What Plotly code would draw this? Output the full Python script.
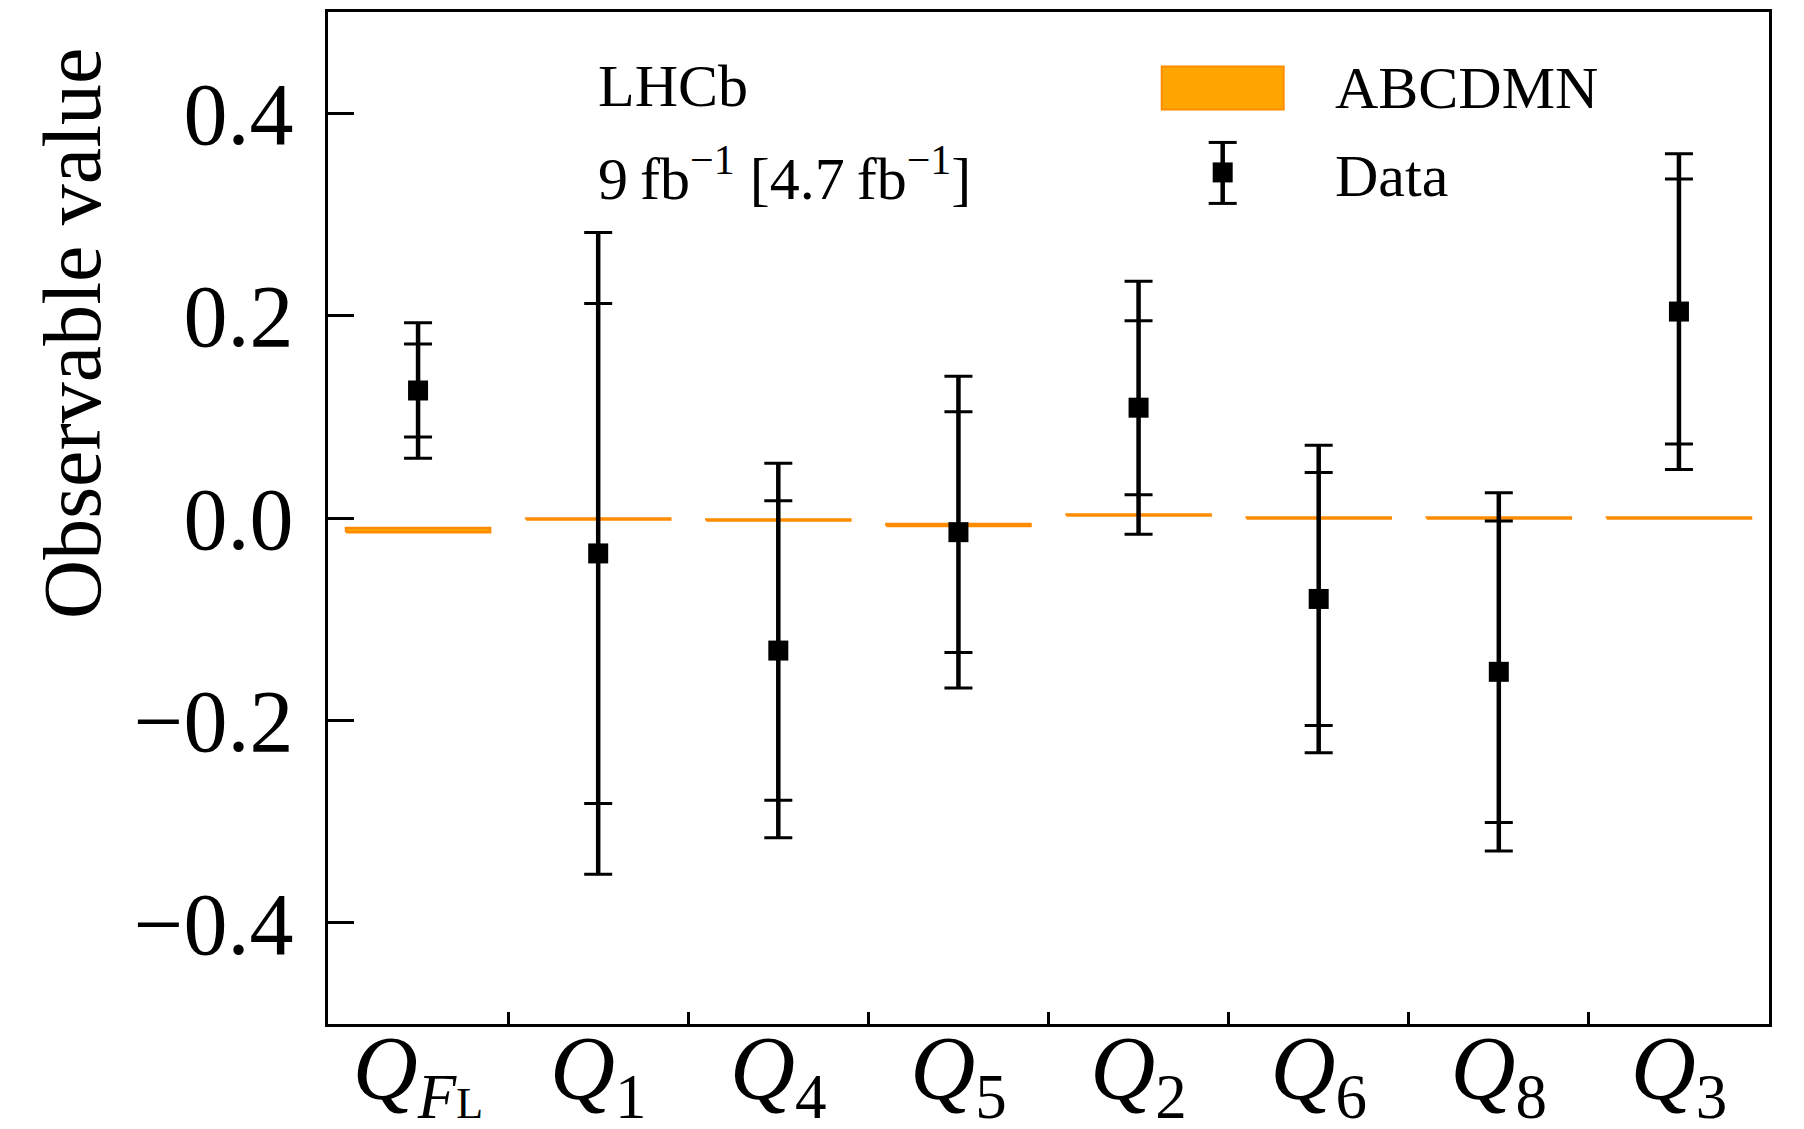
import plotly.graph_objects as go

# ---- data ----
categories = ["<i>Q</i><sub><i>F</i><span style='font-size:44px'>L</span></sub>",
              "<i>Q</i><sub>1</sub>", "<i>Q</i><sub>4</sub>",
              "<i>Q</i><sub>5</sub>", "<i>Q</i><sub>2</sub>", "<i>Q</i><sub>6</sub>",
              "<i>Q</i><sub>8</sub>", "<i>Q</i><sub>3</sub>"]
data_val = [0.126, -0.035, -0.131, -0.014, 0.109, -0.080, -0.152, 0.204]
stat_err = [0.046, 0.247, 0.148, 0.119, 0.086, 0.125, 0.149, 0.131]
tot_err = [0.067, 0.317, 0.185, 0.154, 0.125, 0.152, 0.177, 0.156]
sm_val = [-0.012, -0.001, -0.002, -0.007, 0.003, 0.0, 0.0, 0.0]
sm_err = [0.002, 0.0005, 0.0005, 0.001, 0.0005, 0.0005, 0.0005, 0.0005]
y_ticks = [-0.4, -0.2, 0.0, 0.2, 0.4]

FONT = "Liberation Serif, Times New Roman, serif"
ORANGE = "#FFA500"
DORANGE = "#FF8C00"
half = 0.4

x = list(range(len(categories)))

fig = go.Figure()

# SM prediction bands
bx, by = [], []
for i, (v, e) in enumerate(zip(sm_val, sm_err)):
    bx += [i - half, i + half, i + half, i - half, i - half, None]
    by += [v - e, v - e, v + e, v + e, v - e, None]
fig.add_trace(go.Scatter(x=bx, y=by, mode="lines", fill="toself", fillcolor=ORANGE,
                         line=dict(color=DORANGE, width=2.5), showlegend=False,
                         hoverinfo="skip"))

# thick vertical bars (total uncertainty)
fig.add_trace(go.Scatter(x=x, y=data_val, mode="markers", marker=dict(size=1, opacity=0),
                         error_y=dict(type="data", array=tot_err, width=0, thickness=4.5,
                                      color="black"), showlegend=False))
# caps: total
fig.add_trace(go.Scatter(x=x, y=data_val, mode="markers", marker=dict(size=1, opacity=0),
                         error_y=dict(type="data", array=tot_err, width=14, thickness=3,
                                      color="black"), showlegend=False))
# caps: stat
fig.add_trace(go.Scatter(x=x, y=data_val, mode="markers", marker=dict(size=1, opacity=0),
                         error_y=dict(type="data", array=stat_err, width=14, thickness=3,
                                      color="black"), showlegend=False))
# markers
fig.add_trace(go.Scatter(x=x, y=data_val, mode="markers",
                         marker=dict(symbol="square", size=20, color="black"),
                         showlegend=False))

# ---- geometry (page has an 8px body margin) ----
OFF = 8
FW, FH = 1796, 1121
L, R, T, B = 328, 1769.5, 11.5, 1024          # target plot box in page pixels
W, H = R - L, B - T
ml, mt = L - OFF, T - OFF
mr, mb = FW - ml - W, FH - mt - H

def px(xf):
    return (xf - L) / W
def py(yf):
    return (B - yf) / H

shapes = []
shapes.append(dict(type="rect", xref="paper", yref="paper", x0=px(1162), x1=px(1284),
                   y0=py(109), y1=py(66), fillcolor=ORANGE, line=dict(color=DORANGE, width=2)))
gx = 1223
shapes.append(dict(type="line", xref="paper", yref="paper", x0=px(gx), x1=px(gx),
                   y0=py(142), y1=py(203), line=dict(color="black", width=4.5)))
for yy in (142, 203):
    shapes.append(dict(type="line", xref="paper", yref="paper", x0=px(gx - 14), x1=px(gx + 14),
                       y0=py(yy), y1=py(yy), line=dict(color="black", width=3)))
shapes.append(dict(type="rect", xref="paper", yref="paper", x0=px(gx - 10), x1=px(gx + 10),
                   y0=py(182), y1=py(162), fillcolor="black", line=dict(width=0)))

ann = []
tf = dict(family=FONT, size=60, color="black")
ann.append(dict(text="LHCb", xref="paper", yref="paper", x=px(596), y=py(86),
                xanchor="left", yanchor="middle", showarrow=False, font=tf))
ann.append(dict(text="9\u2009fb<sup>\u22121</sup> [4.7\u2009fb<sup>\u22121</sup>]", xref="paper",
                yref="paper", x=px(596), y=py(174), xanchor="left", yanchor="middle",
                showarrow=False, font=tf))
ann.append(dict(text="ABCDMN", xref="paper", yref="paper", x=px(1333), y=py(88),
                xanchor="left", yanchor="middle", showarrow=False, font=tf))
ann.append(dict(text="Data", xref="paper", yref="paper", x=px(1333), y=py(176),
                xanchor="left", yanchor="middle", showarrow=False, font=tf))
ann.append(dict(text="Observable value", xref="paper", yref="paper", x=px(73), y=py(46),
                xanchor="center", yanchor="top", textangle=-90, showarrow=False,
                font=dict(family=FONT, size=82, color="black")))

fig.update_layout(
    width=FW, height=FH,
    margin=dict(l=ml, r=mr, t=mt, b=mb, autoexpand=False),
    paper_bgcolor="white", plot_bgcolor="white",
    shapes=shapes, annotations=ann, showlegend=False,
    font=dict(family=FONT, color="black"),
)
fig.update_xaxes(range=[-0.5, len(categories) - 0.5], tickmode="array", tickvals=x,
                 ticktext=categories, ticks="", showgrid=False, zeroline=False,
                 showline=True, linecolor="black", linewidth=3, mirror=True,
                 automargin=False,
                 tickfont=dict(family=FONT, size=90, color="black"),
                 ticklabelstandoff=-36,
                 minor=dict(tickvals=[i + 0.5 for i in x[:-1]], ticks="inside", ticklen=12,
                            tickwidth=2.5, tickcolor="black", showgrid=False))
fig.update_yaxes(range=[-0.5, 0.5], tickmode="array", tickvals=y_ticks, tickformat=".1f",
                 ticks="inside", ticklen=26, tickwidth=3, tickcolor="black",
                 showgrid=False, zeroline=False, showline=True, linecolor="black",
                 linewidth=3, mirror=True, ticklabelstandoff=14, automargin=False,
                 tickfont=dict(family=FONT, size=88, color="black"))

fig.write_html("out.html")
